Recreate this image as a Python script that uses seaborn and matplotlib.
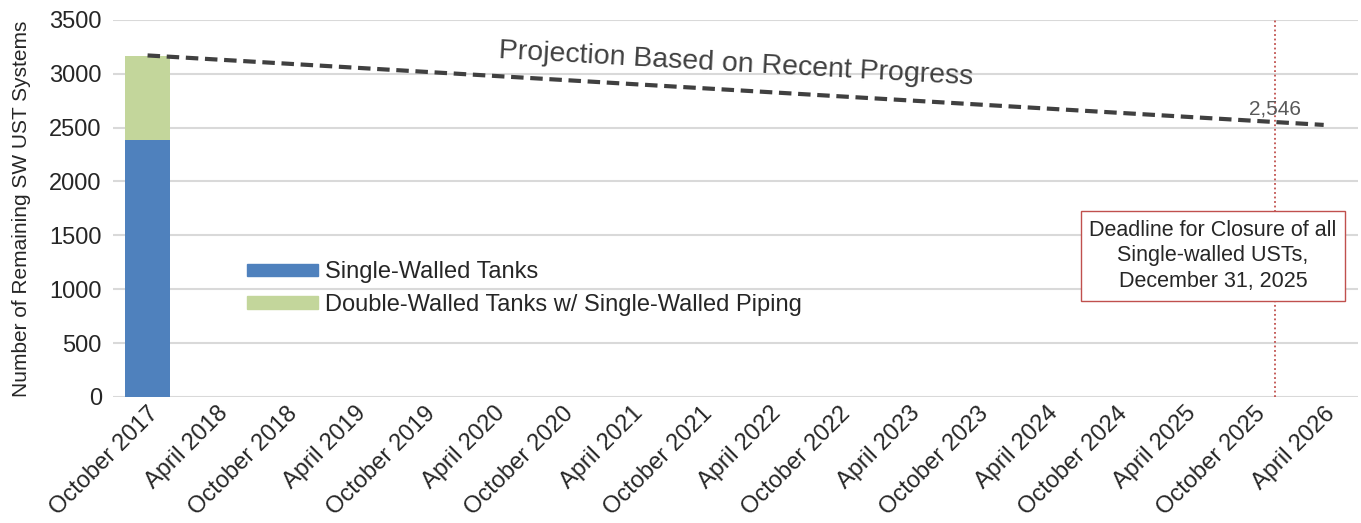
import matplotlib
matplotlib.use("Agg")
import matplotlib.pyplot as plt
from matplotlib.patches import Patch
import pandas as pd
import seaborn as sns

# data
periods = ["October 2017", "April 2018", "October 2018", "April 2019", "October 2019",
           "April 2020", "October 2020", "April 2021", "October 2021", "April 2022",
           "October 2022", "April 2023", "October 2023", "April 2024", "October 2024",
           "April 2025", "October 2025", "April 2026"]
single_walled = [2385] + [None] * 17
double_walled_sw_piping = [780] + [None] * 17
proj_periods = ["October 2017", "April 2026"]
proj_values = [3170, 2525]
deadline_pos = 16.3
deadline_value = 2546

df = pd.DataFrame({"period": periods, "single": single_walled, "double": double_walled_sw_piping})
df["total"] = df["single"] + df["double"]

sns.set_style("white")
plt.rcParams["font.family"] = ["Liberation Sans", "DejaVu Sans"]

fig = plt.figure(figsize=(13.61, 5.23), dpi=100)
ax = fig.add_axes([0.083, 0.241, 0.915, 0.721])

blue = "#4f81bd"
green = "#c3d69b"

sns.barplot(data=df, x="period", y="total", order=periods, color=green, width=0.66,
            saturation=1, linewidth=0, ax=ax, zorder=2)
sns.barplot(data=df, x="period", y="single", order=periods, color=blue, width=0.66,
            saturation=1, linewidth=0, ax=ax, zorder=3)

# projection line
px = [periods.index(p) for p in proj_periods]
ax.plot(px, proj_values, color="#404040", lw=3, ls=(0, (3, 1.6)), zorder=4)
ax.text(8.5, 3085, "Projection Based on Recent Progress", fontsize=20.5, color="#404040",
        rotation=-3.2, ha="center", va="center")
ax.text(deadline_pos, deadline_value + 40, f"{deadline_value:,}", fontsize=15, color="#595959",
        ha="center", va="bottom")

# deadline marker
ax.axvline(deadline_pos, color="#c0504d", lw=1.3, ls=(0, (1, 1.5)), zorder=1)
ax.text(15.4, 1310, "Deadline for Closure of all\nSingle-walled USTs,\nDecember 31, 2025",
        fontsize=15.5, ha="center", va="center", linespacing=1.3,
        bbox=dict(boxstyle="square,pad=0.4", fc="white", ec="#c0504d", lw=1), zorder=5)

ax.set_ylim(0, 3500)
ax.set_xlim(-0.5, 17.5)
ax.set_yticks(range(0, 3501, 500))
ax.yaxis.grid(True, color="#d9d9d9", lw=1.5)
ax.set_axisbelow(True)
for s in ax.spines.values():
    s.set_visible(False)
ax.tick_params(axis="y", labelsize=17, length=0, pad=8)
ax.tick_params(axis="x", labelsize=17, length=0, pad=4)
plt.setp(ax.get_xticklabels(), rotation=45, ha="right", rotation_mode="anchor")
ax.set_xlabel("")
ax.set_ylabel("Number of Remaining SW UST Systems", fontsize=15, labelpad=13)

handles = [Patch(color=blue, label="Single-Walled Tanks"),
           Patch(color=green, label="Double-Walled Tanks w/ Single-Walled Piping")]
ax.legend(handles=handles, loc="upper left", bbox_to_anchor=(0.1, 0.385), frameon=False,
          fontsize=17, handlelength=3.0, handleheight=0.42, handletextpad=0.3,
          labelspacing=0.45, borderaxespad=0)

fig.savefig("out.png", dpi=100)
